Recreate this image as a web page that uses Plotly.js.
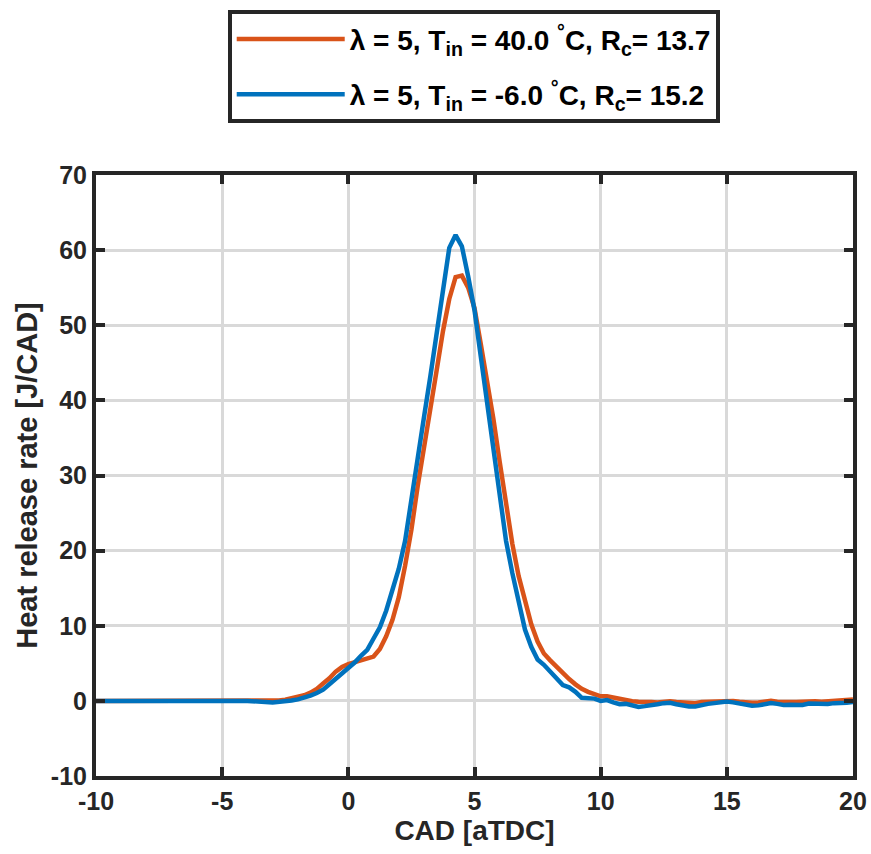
<!DOCTYPE html>
<html>
<head>
<meta charset="utf-8">
<script src="https://cdn.plot.ly/plotly-3.0.1.min.js"></script>
<style>
  html, body { margin: 0; padding: 0; background: #ffffff; }
  #chart { width: 871px; height: 854px; }
</style>
</head>
<body>
<div id="chart"></div>
<script>
// Crank angle [CAD aTDC]
const cad = [
  -10, -9, -8, -7, -6, -5, -4, -3,
  -2.75, -2.5, -2.25, -2, -1.75, -1.5, -1.25, -1, -0.75, -0.5, -0.25,
  0, 0.25, 0.5, 0.75, 1, 1.25, 1.5, 1.75, 2, 2.25, 2.5, 2.75,
  3, 3.25, 3.5, 3.75, 4, 4.25, 4.5, 4.75, 5, 5.25, 5.5, 5.75,
  6, 6.25, 6.5, 6.75, 7, 7.25, 7.5, 7.75, 8, 8.25, 8.5, 8.75,
  9, 9.25, 9.5, 9.75, 10, 10.25, 10.5, 10.75, 11, 11.25, 11.5, 11.75,
  12, 12.25, 12.5, 12.75, 13, 13.25, 13.5, 13.75, 14, 14.25, 14.5, 14.75,
  15, 15.25, 15.5, 15.75, 16, 16.25, 16.5, 16.75, 17, 17.25, 17.5, 17.75,
  18, 18.25, 18.5, 18.75, 19, 19.25, 19.5, 19.75, 20
];

// Heat release rate [J/CAD], lambda = 5, Tin = 40.0 °C, Rc = 13.7
const hrrWarm = [
  0, 0, 0, 0, 0, 0, 0, 0,
  0.05, 0.15, 0.3, 0.45, 0.75, 1.1, 1.6, 2.3, 3.0, 3.9, 4.5,
  4.9, 5.15, 5.3, 5.5, 5.9, 6.9, 8.6, 10.8, 13.8, 18.0, 22.8, 28.6,
  34.0, 39.0, 44.0, 49.2, 53.5, 56.4, 56.6, 55.0, 52.3, 47.5, 42.7, 37.5,
  31.8, 26.3, 20.9, 16.6, 13.2, 10.2, 7.9, 6.3, 5.4, 4.5, 3.6, 2.9,
  2.2, 1.6, 1.2, 0.9, 0.6, 0.6, 0.4, 0.2, 0.05, -0.05, -0.1, -0.2,
  -0.15, -0.2, -0.1, -0.05, -0.15, -0.25, -0.3, -0.3, -0.15, -0.1, -0.05, 0.0,
  0.05, 0.0, -0.1, -0.2, -0.25, -0.2, -0.1, 0.0, -0.1, -0.15, -0.1, -0.15,
  -0.1, 0.0, -0.05, -0.1, -0.05, 0.0, 0.0, 0.05, 0.2
];

// Heat release rate [J/CAD], lambda = 5, Tin = -6.0 °C, Rc = 15.2
const hrrCold = [
  0, 0, 0, 0, 0, 0, 0, -0.2,
  -0.15, -0.05, 0.05, 0.2, 0.4, 0.7, 1.05, 1.5, 2.2, 2.9, 3.6,
  4.3, 5.1, 6.0, 6.8, 8.3, 9.8, 12.0, 14.8, 17.6, 21.3, 26.5, 32.2,
  37.8, 43.2, 49.2, 55.0, 60.3, 62.0, 60.5, 56.5, 52.0, 45.8, 39.5, 33.0,
  27.0, 21.3, 17.0, 13.0, 9.5, 7.2, 5.5, 4.8, 3.9, 2.9, 2.1, 1.8,
  1.2, 0.4, 0.35, 0.3, 0.0, 0.1, -0.2, -0.45, -0.4, -0.6, -0.8, -0.7,
  -0.5, -0.45, -0.3, -0.25, -0.45, -0.65, -0.75, -0.75, -0.5, -0.4, -0.3, -0.2,
  -0.1, -0.2, -0.35, -0.55, -0.65, -0.6, -0.4, -0.3, -0.4, -0.55, -0.5, -0.6,
  -0.55, -0.35, -0.4, -0.45, -0.4, -0.3, -0.3, -0.25, -0.15
];

const seriesNames = [
  'λ = 5, T<sub>in</sub> = 40.0 <sup>°</sup>C, R<sub>c</sub>= 13.7',
  'λ = 5, T<sub>in</sub> = -6.0 <sup>°</sup>C, R<sub>c</sub>= 15.2'
];
const seriesColors = ['#D95319', '#0072BD'];

const xTicks = [-10, -5, 0, 5, 10, 15, 20];
const yTicks = [-10, 0, 10, 20, 30, 40, 50, 60, 70];

const fontFam = '"Liberation Sans", Arial, Helvetica, sans-serif';
const ink = '#262626';

const traces = [
  { x: cad, y: hrrWarm, name: seriesNames[0], legendgroup: 'a', type: 'scatter', mode: 'lines',
    line: { color: seriesColors[0], width: 4.5 } },
  { x: cad, y: hrrCold, name: seriesNames[1], legendgroup: 'b', type: 'scatter', mode: 'lines',
    line: { color: seriesColors[1], width: 4.5 } }
];

const axisCommon = {
  showline: true, linecolor: ink, linewidth: 4, mirror: 'ticks',
  ticks: 'inside', ticklen: 9, tickwidth: 4, tickcolor: ink,
  showgrid: true, gridcolor: '#d9d9d9', gridwidth: 3,
  zeroline: false,
  tickfont: { family: fontFam, size: 25, color: ink, weight: 'bold' }
};

const layout = {
  width: 871, height: 854,
  margin: { l: 96, r: 18, t: 174, b: 78 },
  paper_bgcolor: '#ffffff', plot_bgcolor: '#ffffff',
  font: { family: fontFam, color: ink },
  xaxis: Object.assign({}, axisCommon, {
    range: [-10, 20], tickmode: 'array', tickvals: xTicks, ticktext: xTicks.map(String),
    title: { text: 'CAD [aTDC]', font: { family: fontFam, size: 28, color: ink, weight: 'bold' }, standoff: 6 }
  }),
  yaxis: Object.assign({}, axisCommon, {
    range: [-10, 70], tickmode: 'array', tickvals: yTicks, ticktext: yTicks.map(String),
    title: { text: 'Heat release rate [J/CAD]', font: { family: fontFam, size: 29, color: ink, weight: 'bold' }, standoff: 6 }
  }),
  showlegend: true,
  legend: {
    x: 0.174, y: 1.272, xanchor: 'left', yanchor: 'top',
    bgcolor: '#ffffff', bordercolor: ink, borderwidth: 4,
    font: { family: fontFam, size: 28, color: '#000000', weight: 'bold' },
    itemwidth: 108, traceorder: 'grouped', tracegroupgap: 16
  }
};

Plotly.newPlot('chart', traces, layout, { displayModeBar: false, staticPlot: true });
</script>
</body>
</html>
